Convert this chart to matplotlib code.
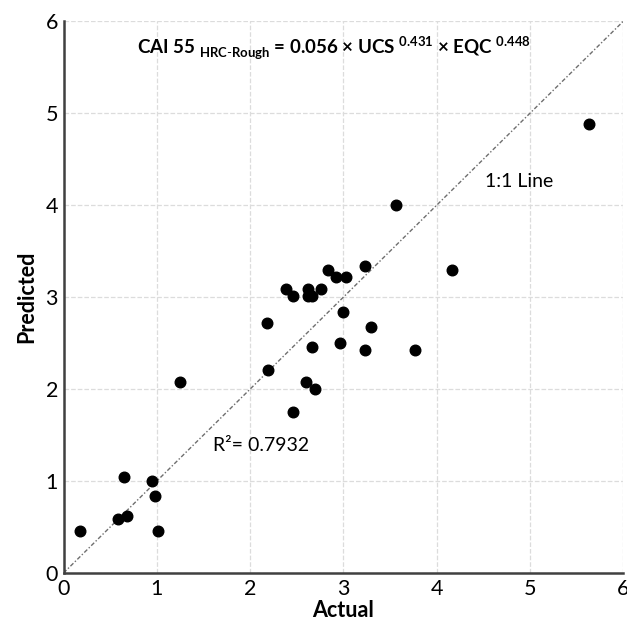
import numpy as np
import matplotlib.pyplot as plt

plt.rcParams['font.family'] = ['Lato', 'DejaVu Sans']
plt.rcParams['mathtext.fontset'] = 'custom'
plt.rcParams['mathtext.rm'] = 'Lato'
plt.rcParams['mathtext.bf'] = 'Lato:bold'

# Measured vs. model CAI values
actual = [0.18, 0.58, 0.68, 0.65, 0.95, 0.98, 1.01, 1.25, 2.19, 2.46, 2.60,
          2.69, 2.18, 2.38, 2.46, 2.62, 2.62, 2.66, 2.76, 2.83, 2.92, 3.03,
          3.23, 3.00, 3.29, 2.66, 2.96, 3.23, 3.77, 3.56, 4.16, 5.63]
predicted = [0.46, 0.59, 0.62, 1.04, 1.00, 0.84, 0.46, 2.08, 2.21, 1.75, 2.08,
             2.00, 2.72, 3.09, 3.01, 3.09, 3.01, 3.01, 3.09, 3.29, 3.22, 3.22,
             3.34, 2.84, 2.67, 2.46, 2.50, 2.42, 2.42, 4.00, 3.29, 4.88]
r_squared = 0.7932
ticks = [0, 1, 2, 3, 4, 5, 6]

fig = plt.figure(figsize=(6.27, 6.25), dpi=100)
ax = fig.add_axes([0.1013, 0.0832, 0.893, 0.883])

ax.plot([0, 6], [0, 6], color='#6e6e6e', lw=1.0, ls=(0, (3, 1.5, 1, 1.5)), zorder=2)
ax.scatter(actual, predicted, s=58, color='black', zorder=3)

ax.set_xlim(0, 6)
ax.set_ylim(0, 6)
ax.set_xticks(ticks)
ax.set_yticks(ticks)
ax.grid(True, color='#dcdcdc', ls='--', lw=0.9)
ax.set_axisbelow(True)
ax.tick_params(length=0, labelsize=15.5, pad=4)

for side in ['top', 'right']:
    ax.spines[side].set_visible(False)
for side in ['left', 'bottom']:
    ax.spines[side].set_color('#404040')
    ax.spines[side].set_linewidth(1.8)

ax.set_xlabel('Actual', fontsize=15.5, fontweight='bold', labelpad=1)
ax.set_ylabel('Predicted', fontsize=15.5, fontweight='bold', labelpad=6)

formula = (r'CAI 55 $_{\mathbf{HRC}\text{-}\mathbf{Rough}}$ = 0.056 × UCS '
           r'$^{\mathbf{0.431}}$ × EQC $^{\mathbf{0.448}}$')
ax.text(2.9, 5.7, formula, fontsize=13.5, fontweight='bold',
        ha='center', va='center')
ax.text(4.88, 4.26, '1:1 Line', fontsize=14, ha='center', va='center')
ax.text(1.6, 1.39, f'R²= {r_squared}', fontsize=14, ha='left', va='center')

fig.savefig('out.png', dpi=100)
